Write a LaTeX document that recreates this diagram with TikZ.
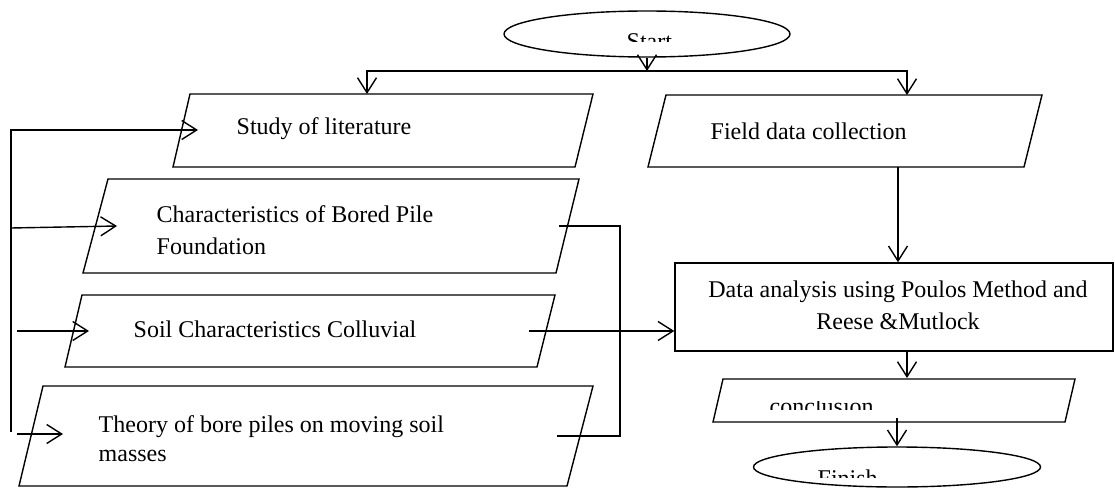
\documentclass[tikz,border=0pt]{standalone}
\usepackage{fontspec}
\setmainfont{Liberation Serif}
\usetikzlibrary{arrows.meta,shapes.geometric}
\begin{document}
\begin{tikzpicture}[x=1pt,y=-1pt,
  line width=1.4pt, line join=miter,
  box/.style={draw, line width=1.4pt},
  txt/.style={inner sep=0pt, anchor=base west, font=\fontsize{24}{30}\selectfont},
  ctxt/.style={inner sep=0pt, anchor=base, font=\fontsize{24}{30}\selectfont},
  arr/.style={-{Straight Barb[length=15pt,width=19pt]}},
  term/.style={draw, ellipse, inner sep=0pt, line width=1.4pt}]
\useasboundingbox (0,0) rectangle (1115,489);

% terminals
\node[term, minimum width=286pt, minimum height=46pt] (start) at (647,34) {};
\begin{scope}
  \clip (560,28) rectangle (740,42);
  \node[txt] (starttxt) at (626,49.5) {Start};
\end{scope}
\node[term, minimum width=287pt, minimum height=40pt] (finish) at (897,467) {};
\begin{scope}
  \clip (780,466) rectangle (1000,477);
  \node[txt] (finishtxt) at (817,486) {Finish};
\end{scope}

% parallelogram boxes
\draw[box] (190,94) -- (593,94) -- (575,167) -- (173,167) -- cycle;
\node[txt] (study) at (236,135) {Study of literature};

\draw[box] (666,95) -- (1042,95) -- (1024,167) -- (648,167) -- cycle;
\node[txt] (field) at (710,140) {Field data collection};

\draw[box] (108,179) -- (579,179) -- (556,273) -- (83,273) -- cycle;
\node[txt] (char1) at (156,222) {Characteristics of Bored Pile};
\node[txt] (char2) at (156,254) {Foundation};

\draw[box] (82,295) -- (555,295) -- (537,367) -- (65,367) -- cycle;
\node[txt] (soil) at (133,337) {Soil Characteristics Colluvial};

\draw[box] (43,386) -- (593,386) -- (567,486) -- (19,486) -- cycle;
\node[txt] (theo1) at (98,432) {Theory of bore piles on moving soil};
\node[txt] (theo2) at (98,461) {masses};

\node[draw, line width=1.4pt, minimum width=438pt, minimum height=88pt, inner sep=0pt] (data) at (894,307) {};
\node[ctxt] (data1) at (898,297) {Data analysis using Poulos Method and};
\node[ctxt] (data2) at (898,329) {Reese \&Mutlock};

\draw[box] (723,379) -- (1075,379) -- (1065,422) -- (713,422) -- cycle;
\begin{scope}
  \clip (740,401) rectangle (1000,409);
  \node[txt] (concl) at (769,414) {conclusion};
\end{scope}

% connector coordinates
\coordinate (split) at (647,71);
\coordinate (studytop) at (367,94);
\coordinate (fieldtop) at (907,95);
\coordinate (fbbot) at (11,432);
\coordinate (studyin) at (198,130);
\coordinate (charsrc) at (11,228);
\coordinate (charin) at (117,226);
\coordinate (soilsrc) at (17,331);
\coordinate (soilin) at (89,331);
\coordinate (theosrc) at (17,434);
\coordinate (theoin) at (63,434);
\coordinate (charout) at (559,226);
\coordinate (mergetop) at (620,226);
\coordinate (mergebot) at (620,436);
\coordinate (theoout) at (557,436);
\coordinate (soilout) at (529,331);
\coordinate (fieldout) at (898,167);
\coordinate (dataout) at (907,351);
\coordinate (concltop) at (907,378);
\coordinate (conclout) at (897,418);

% connectors
\draw[arr] (start.south) -- (split);
\draw[arr] (split) -| (studytop);
\draw[arr] (split) -| (fieldtop);
\draw[arr] (fbbot) |- (studyin);
\draw[arr] (charsrc) -- (charin);
\draw[arr] (soilsrc) -- (soilin);
\draw[arr] (theosrc) -- (theoin);
\draw (charout) -- (mergetop) -- (mergebot) -- (theoout);
\draw[arr] (soilout) -- (soilout -| data.west);
\draw[arr] (fieldout) -- (fieldout |- data.north);
\draw[arr] (dataout) -- (concltop);
\draw[arr] (conclout) -- (finish.north);
\end{tikzpicture}
\end{document}
